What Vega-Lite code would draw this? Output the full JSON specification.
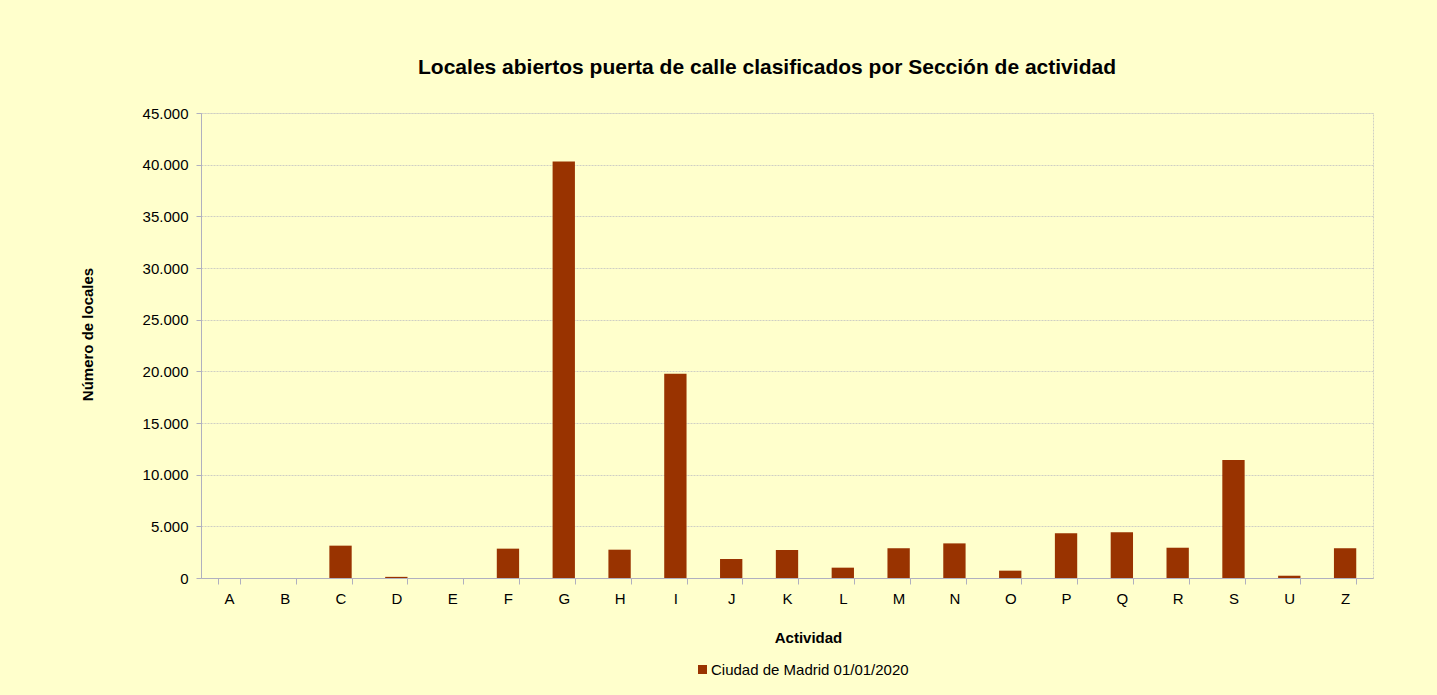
{
  "$schema": "https://vega.github.io/schema/vega-lite/v6.json",
  "autosize": "none",
  "width": 1172,
  "height": 465,
  "padding": {"left": 201, "top": 113, "right": 64, "bottom": 117},
  "background": "#FFFFCC",
  "title": {
    "text": "Locales abiertos puerta de calle clasificados por Sección de actividad",
    "fontSize": 21,
    "font": "Liberation Sans",
    "fontWeight": "bold",
    "color": "#000000",
    "anchor": "middle",
    "dx": -20,
    "offset": 28
  },
  "data": {
    "values": [
      {"seccion": "A", "locales": 0, "serie": "Ciudad de Madrid  01/01/2020"},
      {"seccion": "B", "locales": 0, "serie": "Ciudad de Madrid  01/01/2020"},
      {"seccion": "C", "locales": 3130, "serie": "Ciudad de Madrid  01/01/2020"},
      {"seccion": "D", "locales": 110, "serie": "Ciudad de Madrid  01/01/2020"},
      {"seccion": "E", "locales": 0, "serie": "Ciudad de Madrid  01/01/2020"},
      {"seccion": "F", "locales": 2840, "serie": "Ciudad de Madrid  01/01/2020"},
      {"seccion": "G", "locales": 40300, "serie": "Ciudad de Madrid  01/01/2020"},
      {"seccion": "H", "locales": 2740, "serie": "Ciudad de Madrid  01/01/2020"},
      {"seccion": "I", "locales": 19760, "serie": "Ciudad de Madrid  01/01/2020"},
      {"seccion": "J", "locales": 1840, "serie": "Ciudad de Madrid  01/01/2020"},
      {"seccion": "K", "locales": 2710, "serie": "Ciudad de Madrid  01/01/2020"},
      {"seccion": "L", "locales": 1000, "serie": "Ciudad de Madrid  01/01/2020"},
      {"seccion": "M", "locales": 2880, "serie": "Ciudad de Madrid  01/01/2020"},
      {"seccion": "N", "locales": 3350, "serie": "Ciudad de Madrid  01/01/2020"},
      {"seccion": "O", "locales": 710, "serie": "Ciudad de Madrid  01/01/2020"},
      {"seccion": "P", "locales": 4330, "serie": "Ciudad de Madrid  01/01/2020"},
      {"seccion": "Q", "locales": 4430, "serie": "Ciudad de Madrid  01/01/2020"},
      {"seccion": "R", "locales": 2930, "serie": "Ciudad de Madrid  01/01/2020"},
      {"seccion": "S", "locales": 11430, "serie": "Ciudad de Madrid  01/01/2020"},
      {"seccion": "U", "locales": 220, "serie": "Ciudad de Madrid  01/01/2020"},
      {"seccion": "Z", "locales": 2880, "serie": "Ciudad de Madrid  01/01/2020"}
    ]
  },
  "mark": {"type": "bar"},
  "encoding": {
    "x": {
      "field": "seccion",
      "type": "nominal",
      "sort": null,
      "scale": {"paddingInner": 0.6, "paddingOuter": 0.3},
      "axis": {
        "title": "Actividad",
        "labelAngle": 0,
        "tickBand": "extent",
        "tickSize": 6,
        "labelPadding": 7,
        "titlePadding": 24,
        "titleX": 607,
        "domainColor": "#B0B0C0",
        "tickColor": "#B0B0C0",
        "grid": false
      }
    },
    "y": {
      "field": "locales",
      "type": "quantitative",
      "scale": {"domain": [0, 45000]},
      "axis": {
        "title": "Número de locales",
        "values": [0, 5000, 10000, 15000, 20000, 25000, 30000, 35000, 40000, 45000],
        "format": ",d",
        "tickSize": 5,
        "labelPadding": 8,
        "titlePadding": 47,
        "titleY": 221,
        "domainColor": "#B0B0C0",
        "tickColor": "#B0B0C0",
        "grid": true,
        "gridColor": "#CFCFC4",
        "gridDash": [2, 1]
      }
    },
    "color": {
      "field": "serie",
      "type": "nominal",
      "scale": {"range": ["#993300"]},
      "legend": {
        "title": null,
        "orient": "none",
        "legendX": 494,
        "legendY": 549,
        "symbolType": "square",
        "symbolSize": 81,
        "symbolStrokeWidth": 0,
        "labelFontSize": 15,
        "labelOffset": 1,
        "labelLimit": 0,
        "labelFont": "Liberation Sans",
        "labelColor": "#000000"
      }
    }
  },
  "config": {
    "locale": {"number": {"decimal": ",", "thousands": ".", "grouping": [3], "currency": ["", " €"]}},
    "view": {"stroke": "#CFCFC4", "strokeDash": [2, 1], "fill": null},
    "axis": {
      "labelFont": "Liberation Sans",
      "labelFontSize": 15,
      "labelColor": "#000000",
      "titleFont": "Liberation Sans",
      "titleFontSize": 15,
      "titleFontWeight": "bold",
      "titleColor": "#000000"
    }
  }
}
